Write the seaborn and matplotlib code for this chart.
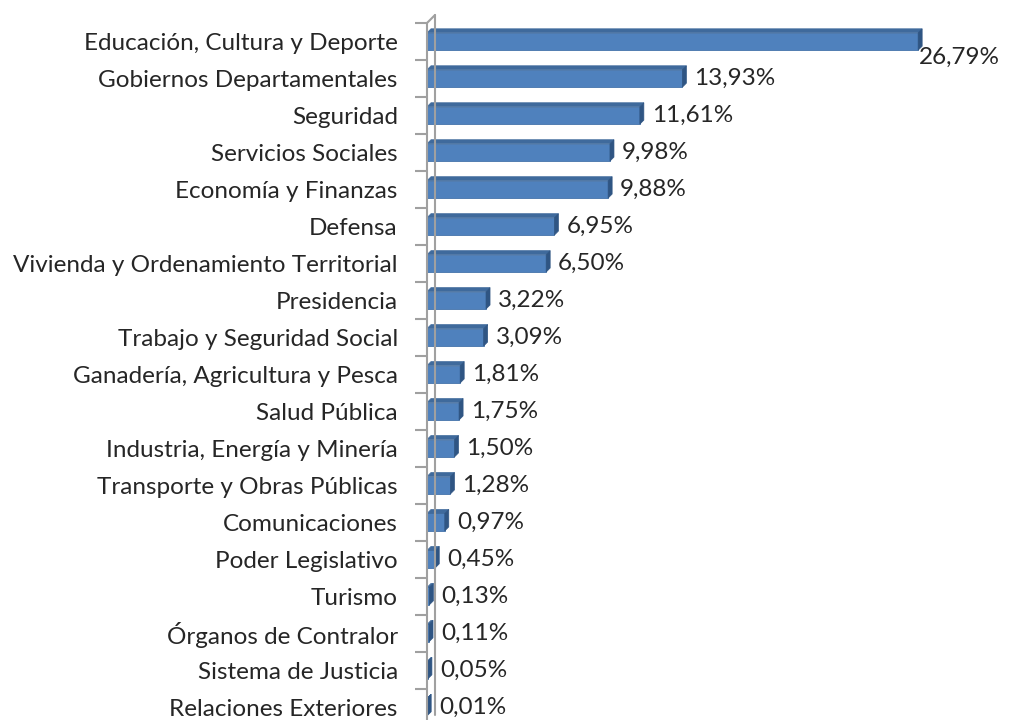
import numpy as np
import pandas as pd
import matplotlib
matplotlib.use("Agg")
import matplotlib.pyplot as plt
from matplotlib.patches import Polygon
from matplotlib.lines import Line2D
import seaborn as sns

# ==============================
# DATA
# ==============================

categories = [
    "Educación, Cultura y Deporte",
    "Gobiernos Departamentales",
    "Seguridad",
    "Servicios Sociales",
    "Economía y Finanzas",
    "Defensa",
    "Vivienda y Ordenamiento Territorial",
    "Presidencia",
    "Trabajo y Seguridad Social",
    "Ganadería, Agricultura y Pesca",
    "Salud Pública",
    "Industria, Energía y Minería",
    "Transporte y Obras Públicas",
    "Comunicaciones",
    "Poder Legislativo",
    "Turismo",
    "Órganos de Contralor",
    "Sistema de Justicia",
    "Relaciones Exteriores",
]
shares = [26.79, 13.93, 11.61, 9.98, 9.88, 6.95, 6.50, 3.22, 3.09, 1.81,
          1.75, 1.50, 1.28, 0.97, 0.45, 0.13, 0.11, 0.05, 0.01]
value_labels = ["26,79%", "13,93%", "11,61%", "9,98%", "9,88%", "6,95%", "6,50%",
                "3,22%", "3,09%", "1,81%", "1,75%", "1,50%", "1,28%", "0,97%",
                "0,45%", "0,13%", "0,11%", "0,05%", "0,01%"]

df = pd.DataFrame({"categoria": categories, "porcentaje": shares})

# ==============================
# PLOT
# ==============================

sns.set_style("white")
plt.rcParams["font.family"] = ["Lato", "DejaVu Sans"]

W, H = 1012, 720
fig = plt.figure(figsize=(W / 100, H / 100), dpi=100)
ax = fig.add_axes([427 / W, 0, 550 / W, 697 / H])

front = "#4F81BD"
top_c = "#3F6A9C"
side_c = "#2F5583"
wall_c = "#A0A0A0"

sns.barplot(data=df, x="porcentaje", y="categoria", orient="h", color=front,
            width=0.47, saturation=1, ax=ax, edgecolor="#4473AA", linewidth=0.6)

ax.set_xlim(0, 30)
ax.set_ylim(18.35, -0.5)
ax.set_xlabel("")
ax.set_ylabel("")
ax.set_xticks([])
for s in ax.spines.values():
    s.set_visible(False)

ax.tick_params(axis="y", which="major", length=0, pad=21, labelsize=17.5)

# tick marks between categories, left of the wall
ax.hlines(np.arange(-0.5, len(categories), 1), -12 / 550, 0,
          transform=ax.get_yaxis_transform(), clip_on=False,
          color=wall_c, lw=1.5, zorder=5)

# 3D depth for bars (display coords)
dx, dy = 4, 4
for p in ax.patches:
    x0, y0, w, h = p.get_x(), p.get_y(), p.get_width(), p.get_height()
    (ax0, ay0), (ax1, ay1) = ax.transData.transform([(x0, y0), (x0 + w, y0 + h)])
    ytop, ybot = max(ay0, ay1), min(ay0, ay1)
    xl, xr = ax0, ax1
    topf = Polygon([(xl, ytop), (xr, ytop), (xr + dx, ytop + dy), (xl + dx, ytop + dy)],
                   closed=True, transform=None, facecolor=top_c, edgecolor=top_c, lw=0.5)
    sidef = Polygon([(xr, ybot), (xr + dx, ybot + dy), (xr + dx, ytop + dy), (xr, ytop)],
                    closed=True, transform=None, facecolor=side_c, edgecolor=side_c, lw=0.5)
    fig.patches.extend([topf, sidef])

# wall
(wx, wtop) = ax.transData.transform((0, -0.5))
(_, wbot) = ax.transData.transform((0, 18.35))
wd = 8
segs = [[(wx, wbot), (wx, wtop)],
        [(wx + wd, wbot + 5), (wx + wd, wtop + wd)],
        [(wx, wtop), (wx + wd, wtop + wd)]]
for pts in segs:
    xs, ys = zip(*pts)
    fig.lines.append(Line2D(xs, ys, transform=None, color=wall_c, lw=1.5))

# value labels
for i, (v, lab) in enumerate(zip(shares, value_labels)):
    if i == 0:
        ax.annotate(lab, (v, i), xytext=(1, -16), textcoords="offset pixels",
                    ha="left", va="center", fontsize=17.5)
    else:
        ax.annotate(lab, (v, i), xytext=(12, 0), textcoords="offset pixels",
                    ha="left", va="center", fontsize=17.5)

fig.savefig("out.png", dpi=100)
